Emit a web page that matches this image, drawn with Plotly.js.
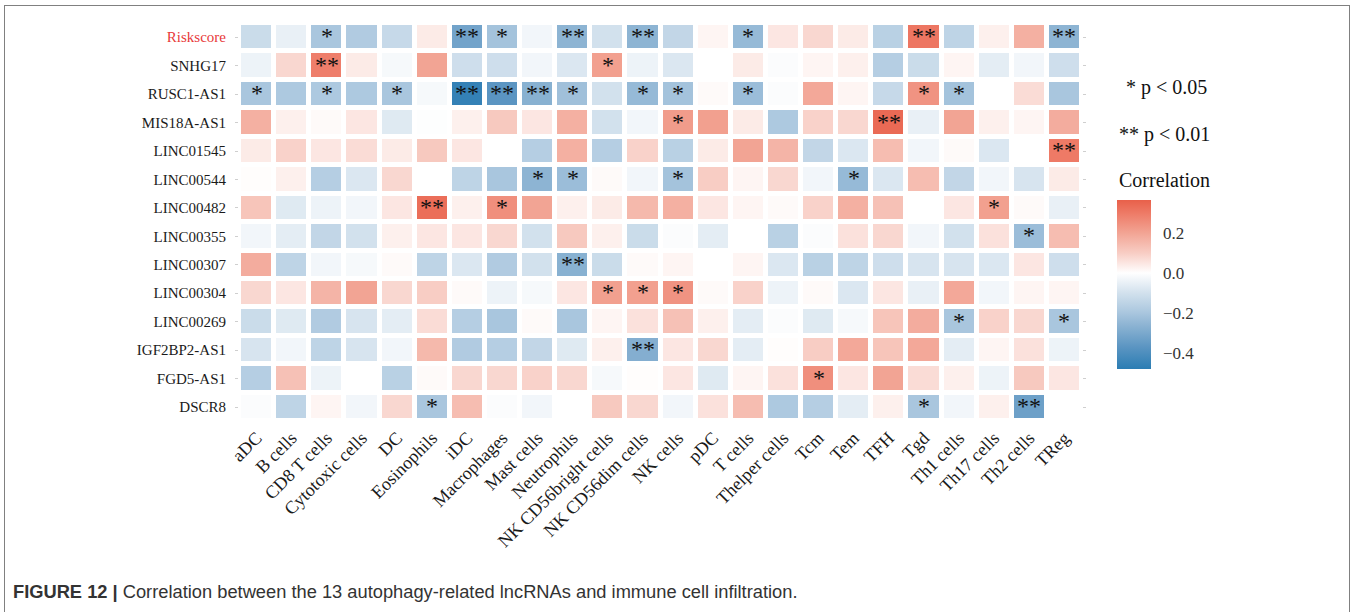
<!DOCTYPE html>
<html>
<head>
<meta charset="utf-8">
<script src="https://cdn.plot.ly/plotly-3.0.1.min.js"></script>
<style>
  html, body { margin:0; padding:0; background:#fff; overflow:hidden; }
  #frame { position:absolute; left:4px; top:4.5px; width:1346px; height:640px;
           border:1.7px solid #808080; box-sizing:border-box; pointer-events:none; }
  #chart { position:absolute; left:0; top:0; width:1354px; height:612px; }
</style>
</head>
<body>
<div id="chart"></div>
<div id="frame"></div>
<script>
// ---- data ----
const cells = ["aDC","B cells","CD8 T cells","Cytotoxic cells","DC","Eosinophils","iDC","Macrophages",
  "Mast cells","Neutrophils","NK CD56bright cells","NK CD56dim cells","NK cells","pDC","T cells",
  "Thelper cells","Tcm","Tem","TFH","Tgd","Th1 cells","Th17 cells","Th2 cells","TReg"];

const genes = ["Riskscore","SNHG17","RUSC1-AS1","MIS18A-AS1","LINC01545","LINC00544","LINC00482",
  "LINC00355","LINC00307","LINC00304","LINC00269","IGF2BP2-AS1","FGD5-AS1","DSCR8"];

const rRiskscore  = [-0.12,-0.05,-0.2,-0.18,-0.13,0.04,-0.32,-0.21,-0.03,-0.26,-0.1,-0.26,-0.14,0.02,-0.24,0.05,0.08,0.04,-0.16,0.31,-0.15,0.03,0.17,-0.26];
const rSNHG17     = [-0.04,0.08,0.29,0.04,-0.02,0.2,-0.11,-0.11,-0.03,-0.08,0.21,-0.04,-0.08,0.0,0.04,-0.01,0.02,0.03,-0.17,-0.12,0.02,-0.06,-0.03,-0.11];
const rRUSC1      = [-0.2,-0.19,-0.19,-0.19,-0.2,-0.02,-0.46,-0.37,-0.27,-0.22,-0.1,-0.24,-0.21,0.01,-0.23,-0.01,0.19,0.02,-0.13,0.24,-0.21,0.0,0.07,-0.2];
const rMIS18A     = [0.17,0.03,0.01,0.05,-0.07,-0.005,0.03,0.11,0.05,0.17,-0.1,-0.03,0.22,0.21,0.04,-0.19,0.09,0.08,0.34,-0.05,0.2,0.03,0.02,0.18];
const rLINC01545  = [0.04,0.09,0.05,0.07,0.04,0.11,0.05,0.0,-0.17,0.17,-0.17,0.09,-0.16,0.04,0.2,0.16,-0.14,-0.08,0.14,-0.03,0.01,-0.08,0.0,0.3];
const rLINC00544  = [0.005,0.03,-0.17,-0.08,0.08,0.0,-0.15,-0.2,-0.26,-0.23,0.01,-0.03,-0.21,0.1,0.02,0.08,-0.03,-0.24,-0.08,0.14,-0.14,-0.03,-0.09,0.04];
const rLINC00482  = [0.12,-0.07,-0.04,-0.03,0.05,0.33,0.03,0.25,0.2,0.03,0.04,0.15,0.17,0.05,0.02,0.01,0.09,0.17,0.13,0.0,0.05,0.21,0.01,-0.05];
const rLINC00355  = [-0.03,-0.06,-0.14,-0.1,0.03,0.05,0.05,0.08,-0.1,0.11,0.03,-0.12,-0.01,-0.06,0.0,-0.16,-0.01,0.06,0.08,-0.03,-0.1,0.06,-0.23,0.14];
const rLINC00307  = [0.18,-0.15,-0.03,-0.02,0.01,-0.15,-0.08,-0.18,-0.1,-0.27,-0.12,0.01,0.02,0.0,0.02,-0.08,-0.16,-0.15,-0.11,-0.09,-0.09,-0.08,0.05,-0.11];
const rLINC00304  = [0.08,0.05,0.16,0.2,0.08,0.1,0.01,-0.04,-0.02,0.05,0.21,0.21,0.24,0.01,0.09,-0.04,0.01,-0.08,0.05,-0.05,0.19,-0.03,0.02,0.02];
const rLINC00269  = [-0.12,-0.07,-0.18,-0.09,-0.06,0.07,-0.17,-0.2,0.01,-0.2,0.02,0.06,0.13,0.03,-0.06,-0.01,-0.07,-0.02,0.12,0.18,-0.2,0.09,0.08,-0.2];
const rIGF2BP2    = [-0.09,-0.03,-0.15,-0.09,-0.03,0.15,-0.18,-0.17,-0.14,-0.07,0.03,-0.28,0.05,0.08,-0.06,0.005,0.1,0.19,0.12,0.19,-0.06,0.02,0.06,-0.04];
const rFGD5       = [-0.17,0.13,-0.04,0.0,-0.16,0.01,0.08,0.08,0.09,0.08,-0.02,0.005,0.05,-0.07,0.02,0.06,0.25,0.05,0.2,0.07,0.03,-0.04,0.11,0.05];
const rDSCR8      = [-0.01,-0.15,0.02,-0.03,0.08,-0.2,0.14,-0.01,-0.03,0.0,0.11,0.08,-0.03,0.06,0.14,-0.19,-0.17,-0.06,0.03,-0.2,-0.03,0.03,-0.33,0.0];

// significance marks per row
const sRiskscore = ["","","*","","","","**","*","","**","","**","","","*","","","","","**","","","","**"];
const sSNHG17    = ["","","**","","","","","","","","*","","","","","","","","","","","","",""];
const sRUSC1     = ["*","","*","","*","","**","**","**","*","","*","*","","*","","","","","*","*","","",""];
const sMIS18A    = ["","","","","","","","","","","","","*","","","","","","**","","","","",""];
const sLINC01545 = ["","","","","","","","","","","","","","","","","","","","","","","","**"];
const sLINC00544 = ["","","","","","","","","*","*","","","*","","","","","*","","","","","",""];
const sLINC00482 = ["","","","","","**","","*","","","","","","","","","","","","","","*","",""];
const sLINC00355 = ["","","","","","","","","","","","","","","","","","","","","","","*",""];
const sLINC00307 = ["","","","","","","","","","**","","","","","","","","","","","","","",""];
const sLINC00304 = ["","","","","","","","","","","*","*","*","","","","","","","","","","",""];
const sLINC00269 = ["","","","","","","","","","","","","","","","","","","","","*","","","*"];
const sIGF2BP2   = ["","","","","","","","","","","","**","","","","","","","","","","","",""];
const sFGD5      = ["","","","","","","","","","","","","","","","","*","","","","","","",""];
const sDSCR8     = ["","","","","","*","","","","","","","","","","","","","","*","","","**",""];

const colorTicks = [-0.4, -0.2, 0, 0.2];
const colorTickText = ["\u22120.4", "\u22120.2", "0.0", "0.2"];

// ---- build ----
const z = [rRiskscore, rSNHG17, rRUSC1, rMIS18A, rLINC01545, rLINC00544, rLINC00482,
           rLINC00355, rLINC00307, rLINC00304, rLINC00269, rIGF2BP2, rFGD5, rDSCR8];
const sig = [sRiskscore, sSNHG17, sRUSC1, sMIS18A, sLINC01545, sLINC00544, sLINC00482,
             sLINC00355, sLINC00307, sLINC00304, sLINC00269, sIGF2BP2, sFGD5, sDSCR8];

const zmin = -0.48, zmax = 0.365;
const pos = v => (v - zmin) / (zmax - zmin);
const colorscale = [
  [0, "#2B7DB3"],
  [pos(-0.37), "#5B95C2"],
  [pos(-0.26), "#8DB4D3"],
  [pos(-0.2), "#A9C6DE"],
  [pos(-0.1), "#D2E1ED"],
  [pos(0), "#FFFFFF"],
  [pos(0.1), "#F8CDC4"],
  [pos(0.2), "#F2A494"],
  [pos(0.3), "#EE7A66"],
  [1, "#E8604A"]
];

const serif = "Liberation Serif, Times New Roman, serif";

const heat = {
  type: "heatmap",
  x: cells, y: genes, z: z,
  zmin: zmin, zmax: zmax,
  colorscale: colorscale,
  xgap: 5, ygap: 5,
  hoverinfo: "skip",
  colorbar: {
    thickness: 34, thicknessmode: "pixels",
    len: 169, lenmode: "pixels",
    x: 1.042, xanchor: "left", xpad: 0,
    y: 0.3466, yanchor: "middle", ypad: 0,
    outlinewidth: 0,
    tickmode: "array", tickvals: colorTicks, ticktext: colorTickText,
    ticks: "outside", ticklen: 9, tickcolor: "rgba(0,0,0,0)",
    tickfont: { family: serif, size: 17, color: "#333" }
  }
};

const annotations = [];
genes.forEach((g, i) => {
  cells.forEach((c, j) => {
    const s = sig[i][j];
    if (s) annotations.push({
      x: c, y: g, xref: "x", yref: "y", text: s, showarrow: false,
      font: { family: serif, size: 24, color: "#111" }, yshift: 1
    });
  });
});

annotations.push(
  { xref: "paper", yref: "paper", x: 1.0504, y: 0.839, xanchor: "left", yanchor: "middle",
    text: "* p &lt; 0.05", showarrow: false, font: { family: serif, size: 20, color: "#111" } },
  { xref: "paper", yref: "paper", x: 1.0421, y: 0.7219, xanchor: "left", yanchor: "middle",
    text: "** p &lt; 0.01", showarrow: false, font: { family: serif, size: 20, color: "#111" } },
  { xref: "paper", yref: "paper", x: 1.0421, y: 0.6072, xanchor: "left", yanchor: "middle",
    text: "Correlation", showarrow: false, font: { family: serif, size: 20, color: "#111" } },
  { xref: "paper", yref: "paper", x: -0.2707, y: -0.4202, xanchor: "left", yanchor: "middle",
    text: "<b>FIGURE 12 |</b> Correlation between the 13 autophagy-related lncRNAs and immune cell infiltration.",
    showarrow: false, font: { family: "Liberation Sans, Arial, sans-serif", size: 18.3, color: "#333" } }
);

const ytext = genes.map((g, i) => i === 0 ? '<span style="color:#E8393A">' + g + '</span>' : g);

const layout = {
  width: 1354, height: 612,
  margin: { l: 238.5, r: 271.5, t: 22.5, b: 188.5, pad: 0, autoexpand: false },
  paper_bgcolor: "#fff", plot_bgcolor: "#fff",
  showlegend: false,
  xaxis: {
    type: "category", tickangle: -45, showgrid: false, zeroline: false, showline: false,
    automargin: false,
    ticks: "", tickfont: { family: serif, size: 18, color: "#1a1a1a" }
  },
  yaxis: {
    type: "category", autorange: "reversed", showgrid: false, zeroline: false, showline: false,
    automargin: false,
    tickmode: "array", tickvals: genes, ticktext: ytext,
    ticks: "outside", ticklen: 3, tickcolor: "#cfcfcf", mirror: "ticks",
    ticklabelstandoff: 6,
    tickfont: { family: serif, size: 15, color: "#1a1a1a" }
  },
  annotations: annotations
};

Plotly.newPlot("chart", [heat], layout, { displayModeBar: false, staticPlot: true });
</script>
</body>
</html>
